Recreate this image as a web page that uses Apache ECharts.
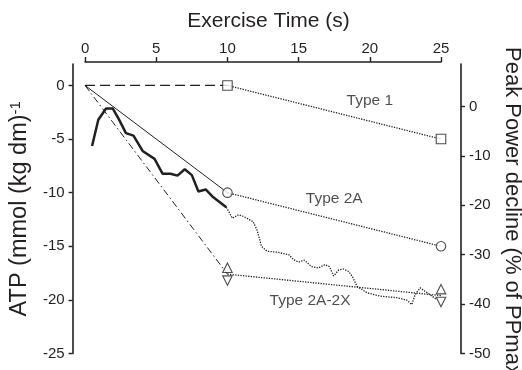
<!DOCTYPE html>
<html>
<head>
<meta charset="utf-8">
<script src="https://cdn.jsdelivr.net/npm/echarts@6/dist/echarts.min.js"></script>
<style>
  html, body { margin: 0; padding: 0; background: #fff; }
  #chart { width: 522px; height: 370px; }
</style>
</head>
<body>
<div id="chart"></div>
<script>
// Axis tick values
const timeTicks = [0, 5, 10, 15, 20, 25];
const atpTicks = [-25, -20, -15, -10, -5, 0];
const powerTicks = [-50, -40, -30, -20, -10, 0];

// ATP change per fibre type at the biopsy times (s)
const biopsyTime = [0, 10, 25];
const type1Atp = [0, 0, -5];
const type2aAtp = [0, -10, -15];
const type2a2xAtp = [0, -17.6, -19.6];     // path between paired markers
const type2a2xUpper = [-17, -19];          // at 10 s and 25 s
const type2a2xLower = [-18.2, -20.2];

// Peak power decline (% of PPmax), first 10 s (solid) and 10-25 s (dotted)
const powerTimeEarly = [0.49, 0.93, 1.47, 1.94, 2.36, 2.87, 3.4, 4.04, 4.88, 5.44, 6.0, 6.49, 7.0, 7.5, 7.96, 8.47, 8.94, 9.92];
const powerEarly = [-8.0, -2.7, -0.4, -0.4, -2.5, -5.4, -5.9, -9.0, -10.6, -13.6, -13.6, -14.0, -12.7, -13.9, -17.2, -16.8, -18.2, -20.4];
const powerTimeLate = [9.92, 10.34, 10.78, 11.16, 11.8, 12.08, 12.39, 12.78, 13.49, 14.31, 14.64, 15.0, 15.4, 15.9, 16.39, 16.84, 17.16, 17.46, 17.81, 18.16, 18.51, 18.77, 19.1, 19.8, 20.73, 21.9, 22.6, 22.95, 23.18, 23.53, 23.88, 24.23, 24.7];
const powerLate = [-20.4, -22.6, -21.9, -22.3, -23.3, -25.0, -28.3, -29.3, -29.5, -30.0, -31.0, -31.5, -31.1, -32.4, -32.7, -32.0, -32.4, -34.3, -33.1, -32.9, -33.4, -34.4, -36.4, -37.7, -38.4, -38.7, -39.2, -40.1, -38.1, -36.7, -37.4, -38.1, -39.1];

// Fibre type captions, placed in data coordinates
const fiberLabels = ['Type 1', 'Type 2A', 'Type 2A-2X'];
const fiberLabelTime = [20, 17.5, 15.8];
const fiberLabelAtp = [-1.4, -10.6, -20.1];

const INK = '#231f20';
const FONT = '"Liberation Sans", Arial, Helvetica, sans-serif';

const pairs = (xs, ys) => xs.map((x, i) => [x, ys[i]]);
const seg = (ys, from, to) => [[biopsyTime[from], ys[from]], [biopsyTime[to], ys[to]]];

function lineSeries(data, type, width, yAxisIndex) {
  return {
    type: 'line', data, yAxisIndex: yAxisIndex || 0,
    symbol: 'none', silent: true, z: 2,
    lineStyle: { color: INK, width, type }
  };
}
function markerSeries(data, symbol, rotate) {
  return {
    type: 'scatter', data, symbol, symbolSize: 9.5, symbolRotate: rotate || 0,
    silent: true, z: 5,
    itemStyle: { color: '#fff', borderColor: INK, borderWidth: 1.1 }
  };
}

const DOT = [1.3, 1.3];

const chart = echarts.init(document.getElementById('chart'), null, { renderer: 'canvas' });
chart.setOption({
  animation: false,
  backgroundColor: '#fff',
  textStyle: { fontFamily: FONT, color: INK },
  grid: { left: 84, right: 81, top: 64, bottom: 16.5, containLabel: false },
  xAxis: {
    type: 'value', position: 'top', offset: 2,
    min: 0, max: 25, interval: 5,
    axisLine: { show: true, onZero: false, lineStyle: { color: INK, width: 1.6 } },
    axisTick: { show: true, length: 5, lineStyle: { color: INK, width: 1.4 } },
    axisLabel: { margin: 6, fontSize: 15, color: INK, fontFamily: FONT },
    splitLine: { show: false },
    name: 'Exercise Time (s)', nameLocation: 'middle', nameGap: 30,
    nameTextStyle: { fontSize: 21, color: INK, fontFamily: FONT, padding: [0, 0, 0, 11] }
  },
  yAxis: [
    {
      type: 'value', position: 'left', offset: 12.5,
      min: -25, max: 2,
      axisLine: { show: true, onZero: false, lineStyle: { color: INK, width: 1.6 } },
      axisTick: { show: true, length: 4, customValues: atpTicks, lineStyle: { color: INK, width: 1.4 } },
      axisLabel: { margin: 8, fontSize: 15, color: INK, fontFamily: FONT, customValues: atpTicks },
      splitLine: { show: false },
      name: 'ATP (mmol (kg dm){sup|-1}', nameLocation: 'middle', nameRotate: 90, nameGap: 28,
      nameTextStyle: {
        fontSize: 23.5, color: INK, fontFamily: FONT,
        rich: { sup: { fontSize: 15, color: INK, fontFamily: FONT, verticalAlign: 'top', lineHeight: 15 } }
      }
    },
    {
      type: 'value', position: 'right', offset: 20,
      min: -50, max: 8.6,
      axisLine: { show: true, onZero: false, lineStyle: { color: INK, width: 1.6 } },
      axisTick: { show: true, length: 4, customValues: powerTicks, lineStyle: { color: INK, width: 1.4 } },
      axisLabel: { margin: 8, fontSize: 15, color: INK, fontFamily: FONT, customValues: powerTicks },
      splitLine: { show: false }
    }
  ],
  graphic: [
    {
      type: 'text', x: 512, y: 47, rotation: -Math.PI / 2, silent: true,
      style: {
        text: 'Peak Power decline (% of PPmax)', fill: INK,
        font: '22px ' + FONT, textAlign: 'left', textVerticalAlign: 'middle'
      }
    }
  ],
  series: [
    // ATP, fibre types
    lineSeries(seg(type1Atp, 0, 1), [10, 5], 1.2),
    lineSeries(seg(type1Atp, 1, 2), DOT, 1.3),
    lineSeries(seg(type2aAtp, 0, 1), 'solid', 1),
    lineSeries(seg(type2aAtp, 1, 2), DOT, 1.3),
    lineSeries(seg(type2a2xAtp, 0, 1), [7, 3, 1.5, 3], 1),
    lineSeries(seg(type2a2xAtp, 1, 2), DOT, 1.3),
    markerSeries(pairs(biopsyTime.slice(1), type1Atp.slice(1)), 'rect'),
    markerSeries(pairs(biopsyTime.slice(1), type2aAtp.slice(1)), 'circle'),
    markerSeries(pairs(biopsyTime.slice(1), type2a2xUpper), 'triangle'),
    markerSeries(pairs(biopsyTime.slice(1), type2a2xLower), 'triangle', 180),
    // Peak power decline
    lineSeries(pairs(powerTimeEarly, powerEarly), 'solid', 2.5, 1),
    lineSeries(pairs(powerTimeLate, powerLate), DOT, 1.3, 1),
    // captions
    {
      type: 'scatter', symbolSize: 0, silent: true, z: 6,
      data: fiberLabels.map((n, i) => ({ name: n, value: [fiberLabelTime[i], fiberLabelAtp[i]] })),
      label: {
        show: true, position: 'inside', formatter: '{b}',
        fontSize: 15.5, color: INK, fontFamily: FONT
      }
    }
  ]
});
</script>
</body>
</html>
